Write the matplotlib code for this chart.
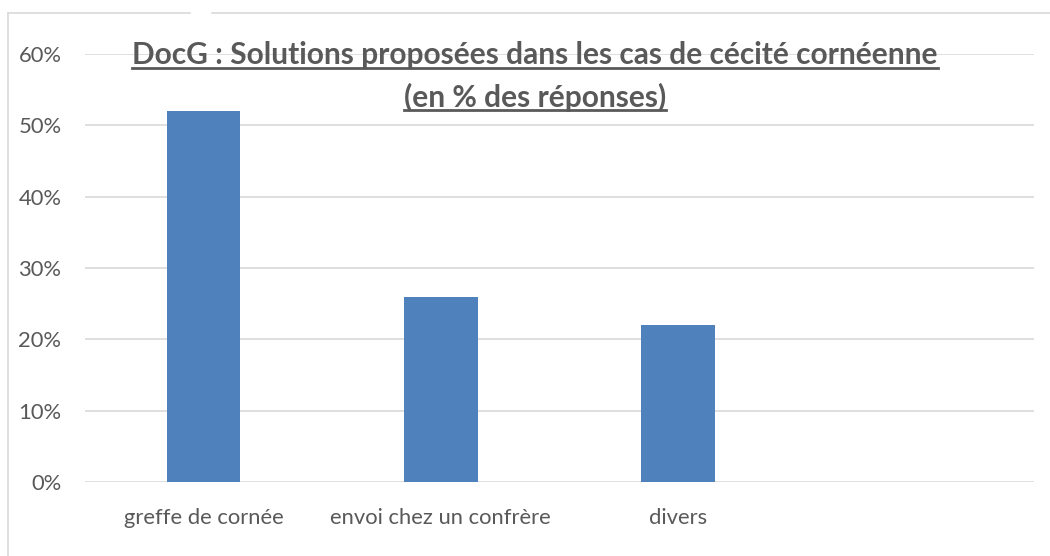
import numpy as np
import matplotlib.pyplot as plt
from matplotlib.lines import Line2D

categories = ['greffe de cornée', 'envoi chez un confrère', 'divers', '']
values = [52, 26, 22, 0]
yticks = [0, 10, 20, 30, 40, 50, 60]
title_lines = ['DocG : Solutions proposées dans les cas de cécité cornéenne',
               '(en % des réponses)']

plt.rcParams['font.family'] = ['Lato', 'DejaVu Sans']
grey = '#595959'

fig = plt.figure(figsize=(10.5, 5.56), dpi=100)
W, H = 1050, 556
ax = fig.add_axes([85 / W, 1 - 482 / H, (1034 - 85) / W, (482 - 54) / H])

x = np.arange(len(categories))
ax.bar(x[:3], values[:3], width=0.31, color='#4f81bd', zorder=3)

ax.set_xlim(-0.5, len(categories) - 0.5)
ax.set_ylim(0, 60)
ax.set_yticks(yticks)
ax.set_yticklabels([f'{t}%' for t in yticks])
ax.set_xticks(x)
ax.set_xticklabels(categories)
ax.tick_params(length=0, labelsize=15.8, labelcolor=grey)
ax.tick_params(axis='y', pad=17)
ax.tick_params(axis='x', pad=19)
ax.grid(axis='y', color='#d9d9d9', linewidth=1.2, zorder=0)
for s in ax.spines.values():
    s.set_visible(False)

# title, two lines, bold + underlined
fig.canvas.draw()
renderer = fig.canvas.get_renderer()
for line, ypix in zip(title_lines, [55, 97]):
    t = fig.text(535 / W, 1 - ypix / H, line, ha='center', va='center',
                 fontsize=21.5, fontweight='bold', color=grey)
    bb = t.get_window_extent(renderer=renderer)
    yu = 1 - (ypix + 13) / H
    fig.add_artist(Line2D([bb.x0 / W, bb.x1 / W], [yu, yu], color=grey, lw=2))

# chart border (cropped at right and bottom), gap in top edge
bc = '#d9d9d9'
fig.add_artist(Line2D([8 / W, 8 / W], [0, 1 - 13 / H], color=bc, lw=1.2))
fig.add_artist(Line2D([8 / W, 190 / W], [1 - 13 / H] * 2, color=bc, lw=1.2))
fig.add_artist(Line2D([212 / W, 1], [1 - 13 / H] * 2, color=bc, lw=1.2))

fig.savefig('out.png', dpi=100)
